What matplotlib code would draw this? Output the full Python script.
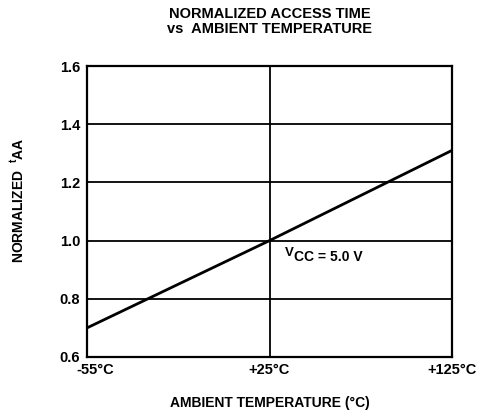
import matplotlib
matplotlib.use('Agg')
import matplotlib.pyplot as plt
import matplotlib.transforms as mtransforms

plt.rcParams['font.family'] = ['Liberation Sans', 'DejaVu Sans']
plt.rcParams['font.weight'] = 'bold'
plt.rcParams['axes.labelweight'] = 'bold'
plt.rcParams['mathtext.fontset'] = 'custom'
plt.rcParams['mathtext.rm'] = 'Liberation Sans:bold'

# temperature points are drawn equally spaced, as in the original datasheet
temp_labels = ['-55°C', '+25°C', '+125°C']
temp_pos = [0, 1, 2]
norm_taa = [0.70, 1.00, 1.31]
y_ticks = [0.6, 0.8, 1.0, 1.2, 1.4, 1.6]

fig = plt.figure(figsize=(4.79, 4.13), dpi=100)
ax = fig.add_axes([87 / 479, 1 - 357 / 413, 365 / 479, 291 / 413])

# grid
for y in y_ticks[1:-1]:
    ax.axhline(y, color='black', lw=1.3, zorder=1)
ax.axvline(temp_pos[1], color='black', lw=1.3, zorder=1)

ax.plot(temp_pos, norm_taa, color='black', lw=2.0, zorder=2)

ax.set_xlim(temp_pos[0], temp_pos[-1])
ax.set_ylim(y_ticks[0], y_ticks[-1])
ax.set_xticks(temp_pos)
ax.set_xticklabels(temp_labels, fontsize=10.5)
ax.set_yticks(y_ticks)
ax.set_yticklabels(['%.1f' % v for v in y_ticks], fontsize=10.5)
ax.tick_params(length=0)
ax.tick_params(axis='y', pad=5)
ax.tick_params(axis='x', pad=4)
for s in ax.spines.values():
    s.set_linewidth(1.6)

# first x label sits a bit to the right in the original, clear of "0.6"
first = ax.get_xticklabels()[0]
first.set_transform(first.get_transform() +
                    mtransforms.ScaledTranslation(8 / 100, 0, fig.dpi_scale_trans))

# V_CC label: V raised, CC lowered, like the scanned original
ax.annotate('V', xy=(1.085, 0.947), xytext=(0, 2.5), textcoords='offset points',
            fontsize=9.5, va='center', ha='left')
ax.annotate('CC = 5.0 V', xy=(1.085, 0.947), xytext=(6.5, -1), textcoords='offset points',
            fontsize=10, va='center', ha='left')

ax.set_xlabel('AMBIENT TEMPERATURE (°C)', fontsize=10, labelpad=14)
ax.set_ylabel(r'NORMALIZED  $\mathrm{^{t}AA}$', fontsize=10)
ax.yaxis.set_label_coords(-0.165, 0.54)

fig.text(269.5 / 479, 1 - 14 / 413, 'NORMALIZED ACCESS TIME', ha='center', va='center', fontsize=10.5)
fig.text(269.5 / 479, 1 - 29 / 413, 'vs  AMBIENT TEMPERATURE', ha='center', va='center', fontsize=10.5)

fig.savefig('out.png', dpi=100)
